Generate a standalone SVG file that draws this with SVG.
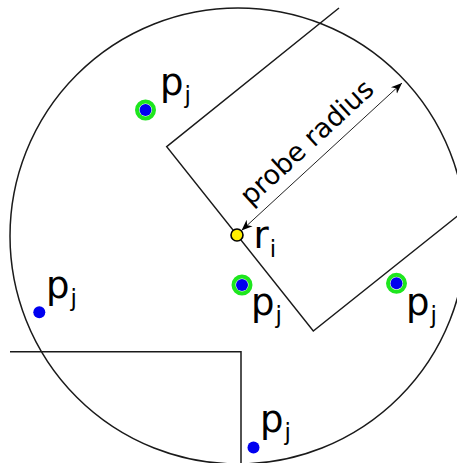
<svg xmlns="http://www.w3.org/2000/svg" width="457" height="463" viewBox="0 0 457 463">
<defs>
<style>
.ln{fill:none;stroke:#1a1a1a;stroke-width:1.5}
.lbl{font-family:"DejaVu Sans",sans-serif;font-size:37px;fill:#000}
.sub{font-size:23px}
.pr{font-family:"DejaVu Sans",sans-serif;font-size:27px;fill:#000}
.ring{fill:#fff;stroke:#1ee61e;stroke-width:4}
.dot{fill:#0000f0}
</style>
<marker id="ah" viewBox="0 0 10 10" refX="10" refY="5" markerWidth="11" markerHeight="11" markerUnits="userSpaceOnUse" orient="auto-start-reverse">
<path d="M0,1 L10,5 L0,9 L3,5 Z" fill="#000"/>
</marker>
</defs>
<rect width="457" height="463" fill="#fff"/>
<g id="probe-circle"><circle cx="238" cy="236" r="228" class="ln" stroke-width="1.3"/></g>
<g id="rectangle"><polyline class="ln" points="339,8 166.7,146.7 313.3,331 470,206"/></g>
<g id="lshape"><polyline class="ln" points="10,351.7 241,351.7 241,463"/></g>
<g id="connectors">
<line x1="241.5" y1="230.5" x2="402" y2="83" stroke="#222" stroke-width="1" marker-start="url(#ah)" marker-end="url(#ah)"/>
<text class="pr" text-anchor="middle" transform="translate(313,149) rotate(-42.6)">probe radius</text>
</g>
<g id="ri"><circle cx="237" cy="235" r="6" fill="#ffee00" stroke="#000" stroke-width="1.6"/><text class="lbl" x="253.5" y="248">r<tspan class="sub" dx="1" dy="9">i</tspan></text></g>
<g id="pj1"><circle cx="145.5" cy="110" r="8.5" class="ring"/><circle cx="145.5" cy="110" r="6" class="dot"/><text class="lbl" x="160" y="95">p<tspan class="sub" dx="1" dy="8">j</tspan></text></g>
<g id="pj2"><circle cx="242" cy="285" r="8.5" class="ring"/><circle cx="242" cy="285" r="6" class="dot"/><text class="lbl" x="251" y="315">p<tspan class="sub" dx="1" dy="8">j</tspan></text></g>
<g id="pj3"><circle cx="396.5" cy="283.3" r="8.5" class="ring"/><circle cx="396.5" cy="283.3" r="6" class="dot"/><text class="lbl" x="406" y="315">p<tspan class="sub" dx="1" dy="8">j</tspan></text></g>
<g id="pj4"><circle cx="39.3" cy="312.3" r="6" class="dot"/><text class="lbl" x="46" y="298">p<tspan class="sub" dx="1" dy="8">j</tspan></text></g>
<g id="pj5"><circle cx="253.5" cy="447.5" r="6" class="dot"/><text class="lbl" x="260" y="432">p<tspan class="sub" dx="1" dy="8">j</tspan></text></g>
</svg>
